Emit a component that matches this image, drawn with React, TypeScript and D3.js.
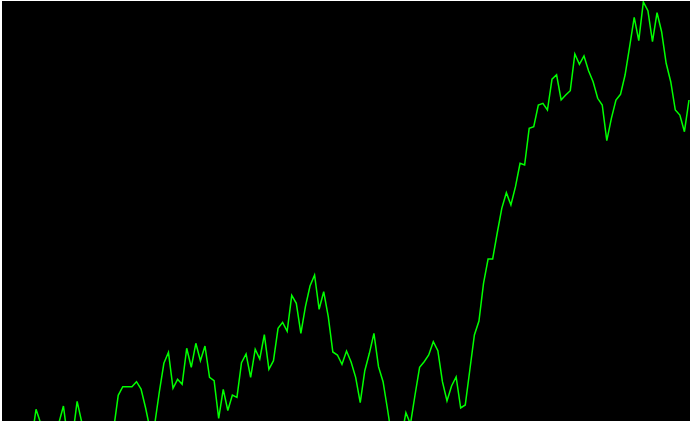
import React, { useEffect, useRef } from 'react';
import * as d3 from 'd3';

// valores (altura acima da borda inferior); negativos ficam fora da área visível
const values: number[] = [
  -19, -31, -25, -37, -29, -21, -31, -20, 11.7, -2,
  -15, -20, -11, -2, 15, -20, -16, 19.7, -1, -15,
  -25, -19, -31, -25, -19, -8, 25.7, 34.3, 34.3, 34.3,
  39.3, 32, 13, -9, -3, 29, 57.7, 68.7, 32.7, 41.7,
  36.7, 72.7, 53.7, 77.7, 60.3, 75, 43.7, 40.3, 2.7, 31.7,
  10.5, 26, 23.7, 58.3, 67, 43.7, 71.7, 62, 86.3, 51.7,
  60.3, 92.7, 98.7, 89.7, 125.7, 117.7, 87.7, 114.3, 135, 146,
  111.7, 129.3, 104.3, 69, 66, 56.7, 70, 59, 43.7, 18.3,
  50.3, 67.7, 87.7, 54.3, 39.3, 11, -19, -29, -17, 8.3,
  -3, 26, 53.7, 59.3, 66, 79.3, 70.3, 39.3, 20, 35,
  44, 13, 16, 51, 86, 100, 137.7, 162, 162, 188,
  212.7, 228.3, 216, 234.3, 257.7, 256, 292.7, 294.3, 316, 317.7,
  311, 341.8, 346.2, 321, 326, 330.3, 367, 356.7, 365, 350.3,
  339.3, 322.7, 316, 280.3, 302.7, 321, 326.7, 346, 374.3, 403.7,
  380.3, 419, 410.3, 379.3, 408.3, 389.3, 357.7, 339.3, 311, 306,
  289.3, 321,
];

const yDomain: [number, number] = [0, 420];

const width = 690;
const height = 421;

const App: React.FC = () => {
  const svgRef = useRef<SVGSVGElement | null>(null);

  useEffect(() => {
    document.body.style.margin = '0';
    const svg = d3.select(svgRef.current);
    svg.selectAll('*').remove();

    // área preta (borda branca fina à esquerda e em cima)
    const plot = { left: 2, top: 1, right: width, bottom: height };

    svg
      .append('rect')
      .attr('x', plot.left)
      .attr('y', plot.top)
      .attr('width', plot.right - plot.left)
      .attr('height', plot.bottom - plot.top)
      .attr('fill', '#000');

    svg
      .append('clipPath')
      .attr('id', 'plot-clip')
      .append('rect')
      .attr('x', plot.left)
      .attr('y', plot.top)
      .attr('width', plot.right - plot.left)
      .attr('height', plot.bottom - plot.top);

    const x = d3
      .scaleLinear()
      .domain([0, values.length - 1])
      .range([-0.5, 689]);

    const y = d3.scaleLinear().domain(yDomain).range([height, 1]);

    const line = d3
      .line<number>()
      .x((_, i) => x(i))
      .y((d) => y(d));

    svg
      .append('path')
      .datum(values)
      .attr('clip-path', 'url(#plot-clip)')
      .attr('fill', 'none')
      .attr('stroke', '#00ff00')
      .attr('stroke-width', 1.5)
      .attr('stroke-linejoin', 'miter')
      .attr('d', line);
  }, []);

  return (
    <svg
      ref={svgRef}
      width={width}
      height={height}
      style={{ display: 'block', background: '#fff' }}
    ></svg>
  );
};

export default App;
